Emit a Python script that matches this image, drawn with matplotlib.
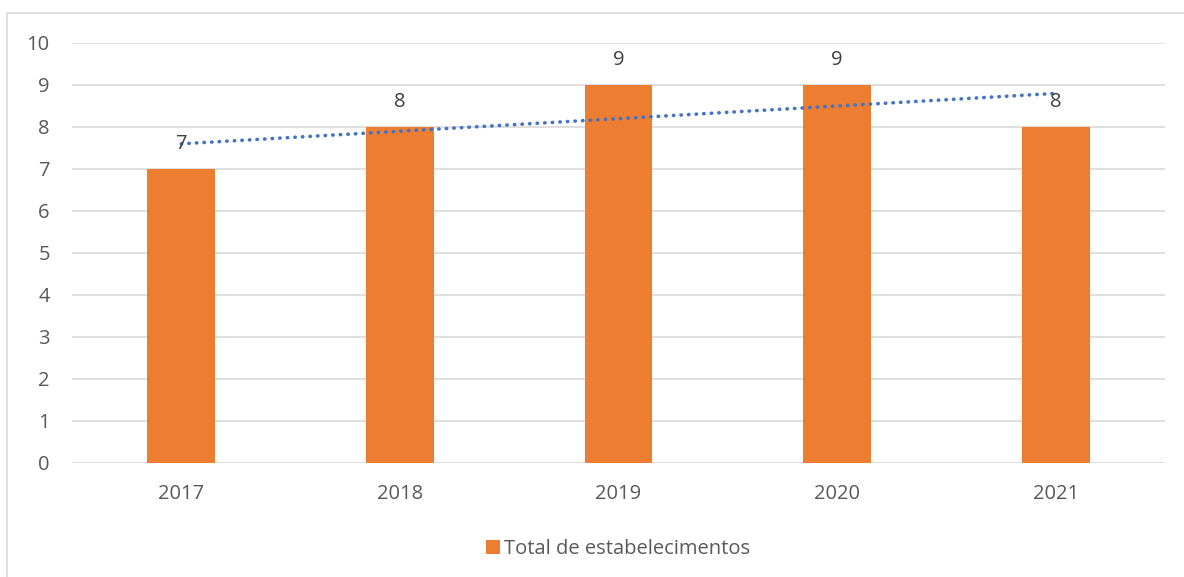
import numpy as np
import matplotlib
matplotlib.use("Agg")
import matplotlib.pyplot as plt
from matplotlib.patches import Rectangle

years = ["2017", "2018", "2019", "2020", "2021"]
totals = [7, 8, 9, 9, 8]

orange = "#ED7D31"
blue = "#4472C4"
grey_text = "#595959"

plt.rcParams["font.family"] = ["Open Sans", "DejaVu Sans"]

fig = plt.figure(figsize=(11.84, 5.77), dpi=100)
ax = fig.add_axes([72 / 1184, 114 / 577, (1165 - 72) / 1184, (463 - 43) / 577])

x = np.arange(len(years))
bars = ax.bar(x, totals, width=0.31, color=orange, zorder=2, label="Total de estabelecimentos")

# linear trendline
coef = np.polyfit(x, totals, 1)
ax.plot(x, np.polyval(coef, x), color=blue, linestyle=(0, (0.1, 2.0)), linewidth=2.6,
        dash_capstyle="round", zorder=3)

for xi, v in zip(x, totals):
    ax.annotate(str(v), (xi, v), xytext=(0, 11), textcoords="offset points",
                ha="center", va="bottom", fontsize=14.5, color="#404040")

ax.set_ylim(0, 10)
ax.set_xlim(-0.5, len(years) - 0.5)
ax.set_yticks(range(0, 11))
ax.set_xticks(x)
ax.set_xticklabels(years)
ax.grid(axis="y", color="#D9D9D9", linewidth=1.2, zorder=0)
ax.tick_params(length=0, labelsize=14.5, labelcolor=grey_text)
ax.tick_params(axis="x", pad=15)
ax.tick_params(axis="y", pad=16)
for s in ax.spines.values():
    s.set_visible(False)

ax.legend(loc="center", bbox_to_anchor=(0.5, -0.205), frameon=False, fontsize=14.5,
          handlelength=0.7, handleheight=0.7, handletextpad=0.2, labelcolor=grey_text)

fig.patches.append(Rectangle((7 / 1184, -0.1), 1.2, 1 - 13 / 577 + 0.1, transform=fig.transFigure,
                             fill=False, edgecolor="#D9D9D9", linewidth=1.2))

fig.savefig("out.png", dpi=100)
